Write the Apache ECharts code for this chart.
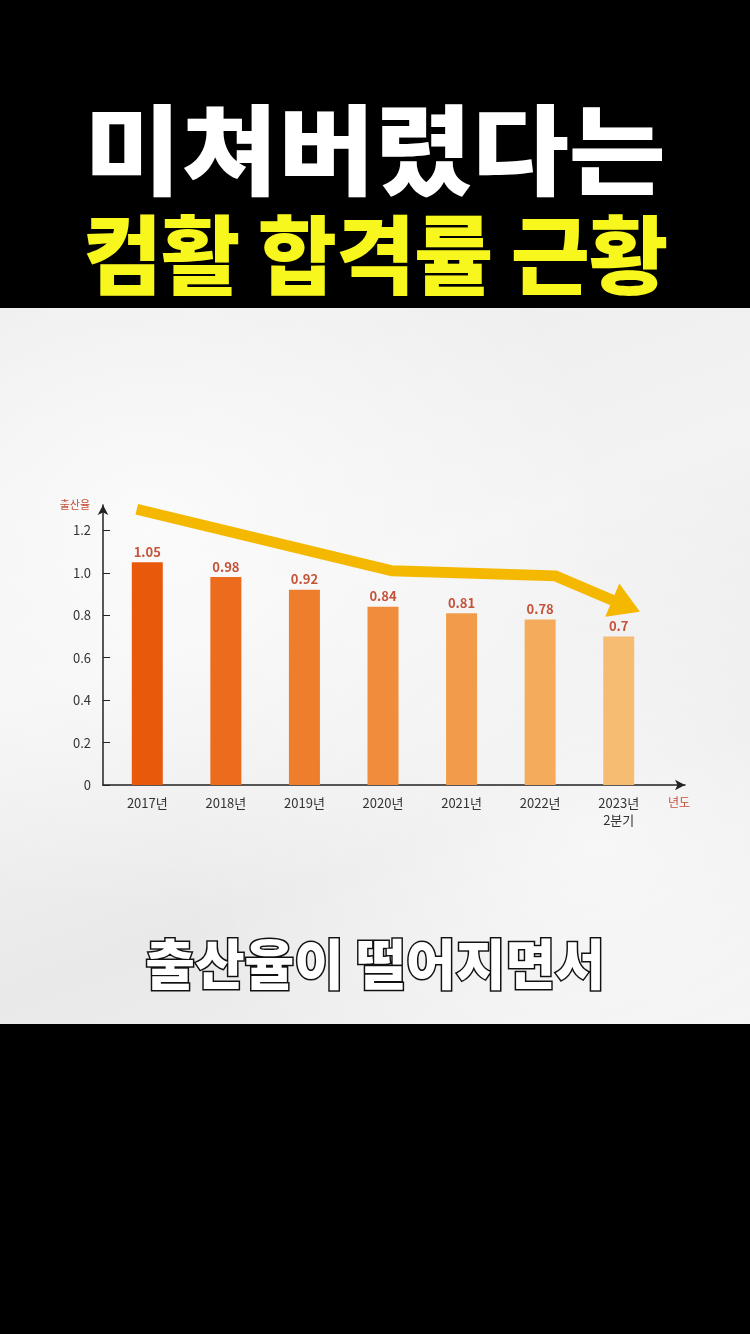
<!DOCTYPE html>
<html>
<head>
<meta charset="utf-8">
<script src="https://cdn.jsdelivr.net/npm/echarts@6/dist/echarts.min.js"></script>
<style>
  html, body { margin: 0; padding: 0; width: 750px; height: 1334px; background: #000; overflow: hidden; }
  .panel {
    position: absolute; left: 0; top: 308px; width: 750px; height: 716px;
    background:
      radial-gradient(ellipse at 20% 30%, rgba(255,255,255,0.7), rgba(255,255,255,0) 55%),
      radial-gradient(ellipse at 80% 75%, rgba(255,255,255,0.6), rgba(255,255,255,0) 50%),
      linear-gradient(160deg, #ebebeb, #f3f3f3 40%, #e9e9e9 70%, #f1f1f1);
  }
  .title {
    position: absolute; left: 0; width: 750px; text-align: center;
    font-family: "Noto Sans CJK KR", sans-serif; font-weight: 900; white-space: nowrap;
  }
  #t1 { top: 84px; font-size: 98px; line-height: 120px; color: #fff; transform: scaleX(1.075); }
  #t2 { top: 196px; font-size: 86px; line-height: 110px; color: #f7f71e; letter-spacing: -1px; }
  #sub {
    top: 925px; font-size: 54px; line-height: 74px; color: #fff; font-weight: 900;
    -webkit-text-stroke: 3px #111; paint-order: stroke fill;
  }
  #chart { position: absolute; left: 0; top: 0; width: 750px; height: 1334px; }
</style>
</head>
<body>
<div class="panel"></div>
<div class="title" id="t1">미쳐버렸다는</div>
<div class="title" id="t2">컴활 합격률 근황</div>
<div class="title" id="sub">출산율이 떨어지면서</div>
<div id="chart"></div>
<script>
const years = ['2017년', '2018년', '2019년', '2020년', '2021년', '2022년', '2023년\n2분기'];
const birthRates = [1.05, 0.98, 0.92, 0.84, 0.81, 0.78, 0.7];
const barColors = ['#e8590c', '#ec6b1d', '#ee7d2c', '#f08c3b', '#f29c4b', '#f4ab5c', '#f6bd72'];
const yTickValues = [0, 0.2, 0.4, 0.6, 0.8, 1.0, 1.2];
const yTickLabels = ['0', '0.2', '0.4', '0.6', '0.8', '1.0', '1.2'];
// trend arrow drawn over the bars (x in category index units, y in rate units)
const trendX = [-0.13, 3.12, 5.2, 6.1];
const trendY = [1.30, 1.01, 0.986, 0.844];

const chart = echarts.init(document.getElementById('chart'));
const font = '"Noto Sans CJK KR", sans-serif';

const trendData = trendX.map((x, i) => {
  const last = i === trendX.length - 1;
  return {
    value: [x, trendY[i]],
    symbol: last ? 'triangle' : 'none',
    symbolSize: [36, 30],
    symbolRotate: -113,
  };
});

chart.setOption({
  animation: false,
  textStyle: { fontFamily: font },
  grid: [
    { left: 103, top: 505, width: 582, height: 280 },
    { left: 108, top: 505, width: 550, height: 280 },
  ],
  xAxis: [
    {
      type: 'value', gridIndex: 0, min: -0.56, max: 6.85,
      axisLine: { show: true, onZero: false, symbol: ['none', 'arrow'], symbolSize: [8, 10], lineStyle: { color: '#222', width: 1.5 } },
      axisTick: { show: false }, axisLabel: { show: false }, splitLine: { show: false },
    },
    {
      type: 'category', gridIndex: 1, data: years,
      axisLine: { show: false }, axisTick: { show: false },
      axisLabel: { color: '#333', fontSize: 13, margin: 10, lineHeight: 17 },
      name: '년도', nameLocation: 'end', nameGap: 10,
      nameTextStyle: { color: '#c5503a', fontSize: 12, verticalAlign: 'top', padding: [11, 0, 0, 0] },
    },
  ],
  yAxis: [
    {
      type: 'value', gridIndex: 0, min: 0, max: 1.32,
      axisLine: { show: true, onZero: false, symbol: ['none', 'arrow'], symbolSize: [8, 10], lineStyle: { color: '#222', width: 1.5 } },
      axisTick: { show: true, inside: true, length: 7, customValues: yTickValues, lineStyle: { color: '#222' } },
      axisLabel: {
        color: '#333', fontSize: 13, margin: 12, customValues: yTickValues,
        formatter: (v) => yTickLabels[yTickValues.indexOf(v)] ?? '',
      },
      splitLine: { show: false },
      name: '출산율', nameLocation: 'end', nameGap: 0,
      nameTextStyle: { color: '#c5503a', fontSize: 11, align: 'right', verticalAlign: 'middle', padding: [0, 13, 0, 0] },
    },
    {
      type: 'value', gridIndex: 1, min: 0, max: 1.32, show: false,
    },
  ],
  series: [
    {
      type: 'bar', xAxisIndex: 1, yAxisIndex: 1, barWidth: 31,
      data: birthRates.map((v, i) => ({ value: v, itemStyle: { color: barColors[i] } })),
      label: { show: true, position: 'top', distance: 4, color: '#c5533a', fontSize: 13, fontWeight: 'bold' },
    },
    {
      type: 'line', xAxisIndex: 0, yAxisIndex: 0, data: trendData,
      lineStyle: { color: '#f5b800', width: 11, cap: 'butt', join: 'miter' },
      itemStyle: { color: '#f5b800' },
      showSymbol: true, showAllSymbol: true, z: 5,
    },
  ],
});
</script>
</body>
</html>
